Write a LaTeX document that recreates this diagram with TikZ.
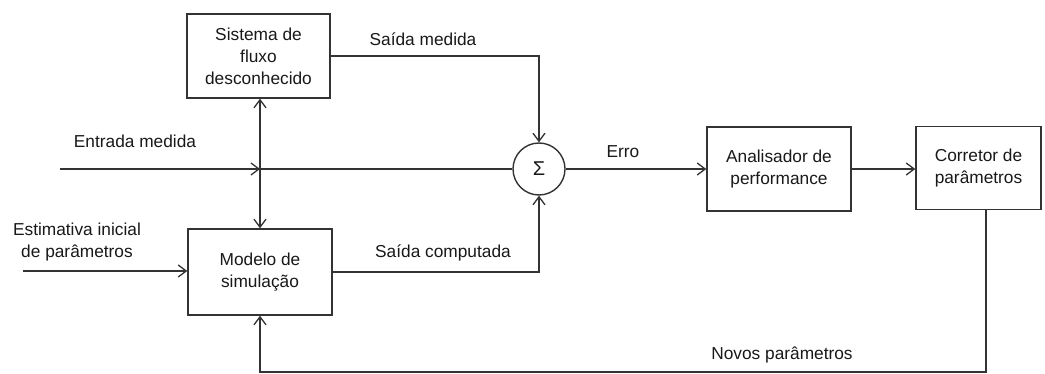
\documentclass[tikz,border=0pt]{standalone}
\usepackage{fontspec}
\setmainfont{Liberation Sans}
\usetikzlibrary{arrows.meta}
\begin{document}
\begin{tikzpicture}[x=1pt,y=-1pt,
  every node/.style={font=\fontsize{17.3}{22}\selectfont, text=black!90},
  blockbox/.style={draw=black!80, line width=1.4pt, align=center, inner sep=0pt},
  sumnode/.style={draw=black!80, line width=1.4pt, circle, minimum size=52pt, inner sep=0pt},
  conn/.style={draw=black!80, line width=1.4pt},
  arr/.style={conn, -{Straight Barb[length=8pt,width=12pt,line width=1.3pt]}},
  lbl/.style={align=center, inner sep=0pt}
]
\useasboundingbox (0,0) rectangle (1045,374);
\fill[white] (0,0) rectangle (1045,374);

\node[blockbox, minimum width=143pt, minimum height=84pt] (sis) at (258.5,56) {Sistema de\\fluxo\\desconhecido};
\node[blockbox, minimum width=144pt, minimum height=86pt] (mod) at (260,272) {Modelo de\\simulação};
\node[sumnode, font=\fontsize{20}{20}\selectfont] (sum) at (539,169) {Σ};
\node[blockbox, minimum width=144pt, minimum height=84pt] (ana) at (779,169) {Analisador de\\performance};
\node[blockbox, minimum width=125pt, minimum height=83pt] (cor) at (978.5,168) {Corretor de\\parâmetros};

\coordinate (inE) at (60,169);
\coordinate (jn) at (260,169);
\coordinate (inP) at (23,271);
\coordinate (c1) at (539,56);
\coordinate (c2) at (539,272);
\coordinate (f1) at (986,372);
\coordinate (f2) at (260,372);

% labels
\node[lbl] (l1) at (423,39) {Saída medida};
\node[lbl] (l2) at (135,141) {Entrada medida};
\node[lbl] (l3) at (623,152) {Erro};
\node[lbl] (l4) at (77,242) {Estimativa inicial\\de parâmetros};
\node[lbl] (l5) at (443,253) {Saída computada};
\node[lbl] (l6) at (782,355) {Novos parâmetros};

% connectors
\draw[arr] (inE) -- (jn);
\draw[conn] (jn) -- (sum.west);
\draw[arr] (jn) -- (sis.south -| jn);
\draw[arr] (jn) -- (mod.north -| jn);
\draw[arr] (sis.east |- c1) -- (c1) -- (sum.north);
\draw[arr] (mod.east |- c2) -- (c2) -- (sum.south);
\draw[arr] (inP) -- (mod.west |- inP);
\draw[arr] (sum.east) -- (ana.west);
\draw[arr] (ana.east) -- (cor.west |- ana.east);
\draw[arr] (cor.south -| f1) -- (f1) -- (f2) -- (mod.south -| f2);
\end{tikzpicture}
\end{document}
